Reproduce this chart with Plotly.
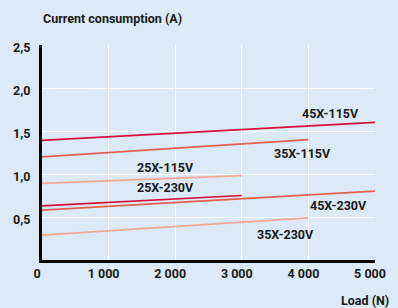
import plotly.graph_objects as go

series_names = ["45X-115V", "35X-115V", "25X-115V", "25X-230V", "45X-230V", "35X-230V"]
series_x = [[0, 5000], [0, 4000], [0, 3000], [0, 3000], [0, 5000], [0, 4000]]
series_y = [[1.39, 1.60], [1.20, 1.40], [0.89, 0.98], [0.63, 0.75], [0.58, 0.80], [0.29, 0.49]]
series_colors = ["#d4103c", "#e4604e", "#f2a794", "#d4103c", "#e4604e", "#f2a794"]
label_x = [4327, 3905, 1849, 1849, 4445, 3661]
label_y = [1.70, 1.24, 1.07, 0.84, 0.63, 0.30]

x_tickvals = [0, 1000, 2000, 3000, 4000, 5000]
x_ticktext = ["0", "1 000", "2 000", "3 000", "4 000", "5 000"]
y_tickvals = [0.5, 1.0, 1.5, 2.0, 2.5]
y_ticktext = ["0,5", "1,0", "1,5", "2,0", "2,5"]

FONT = "Roboto"
BG = "#dbeaf6"
W, H = 398, 308
ML, MR, MT, MB = 42, 18, 45, 48

def px_to_paper(px, py):
    return (px - ML) / (W - ML - MR), (H - MB - py) / (H - MB - MT)

fig = go.Figure()
for name, xs, ys, c in zip(series_names, series_x, series_y, series_colors):
    fig.add_trace(go.Scatter(x=xs, y=ys, mode="lines", name=name,
                             line=dict(color=c, width=1.7), showlegend=False))

for name, lx, ly in zip(series_names, label_x, label_y):
    fig.add_annotation(x=lx, y=ly, xref="x", yref="y", text="<b>%s</b>" % name,
                       showarrow=False, font=dict(family=FONT, size=12.5, color="#1a1a1a"))

tx, ty = px_to_paper(41, 18)
fig.add_annotation(x=tx, y=ty, xref="paper", yref="paper", text="<b>Current consumption (A)</b>",
                   showarrow=False, xanchor="left", yanchor="middle",
                   font=dict(family=FONT, size=12.5, color="#1a1a1a"))
lx_, ly_ = px_to_paper(396, 300)
fig.add_annotation(x=lx_, y=ly_, xref="paper", yref="paper", text="<b>Load (N)</b>",
                   showarrow=False, xanchor="right", yanchor="middle",
                   font=dict(family=FONT, size=12.5, color="#1a1a1a"))

fig.update_layout(
    width=W, height=H,
    margin=dict(l=ML, r=MR, t=MT, b=MB),
    paper_bgcolor=BG, plot_bgcolor=BG,
    xaxis=dict(range=[0, 5000], tickvals=x_tickvals, ticktext=x_ticktext,
               showgrid=True, gridcolor="white", gridwidth=1, zeroline=False,
               showline=True, linecolor="black", linewidth=3,
               tickfont=dict(family=FONT, size=12.5, color="#1a1a1a", weight="bold"),
               ticklabelshift=-5, fixedrange=True),
    yaxis=dict(range=[0, 2.5], tickvals=y_tickvals, ticktext=y_ticktext,
               showgrid=True, gridcolor="white", gridwidth=1, zeroline=False,
               showline=True, linecolor="black", linewidth=3,
               tickfont=dict(family=FONT, size=12.5, color="#1a1a1a", weight="bold"),
               ticklabelshift=3, ticklabelstandoff=6, fixedrange=True),
)

fig.write_html("out.html", config={"displayModeBar": False},
               post_script="document.body.style.margin='0';document.body.style.overflow='hidden';document.body.style.background='%s';" % BG)
